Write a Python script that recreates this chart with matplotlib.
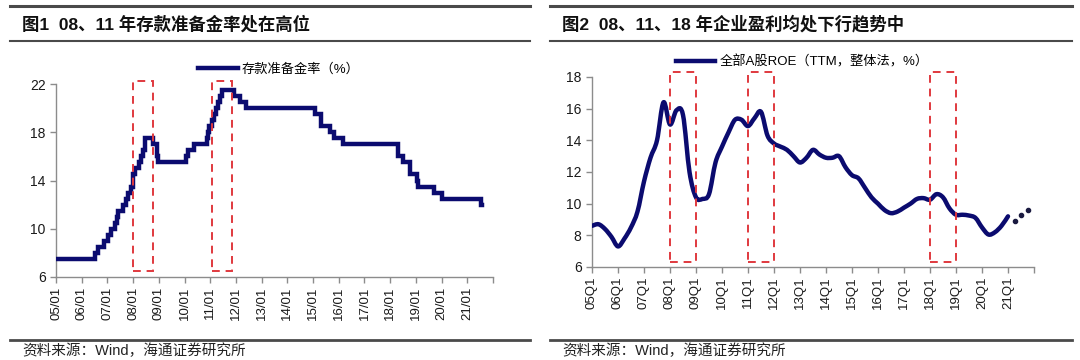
#!/usr/bin/env python3
# -*- coding: utf-8 -*-

import matplotlib
matplotlib.use('Agg')
import matplotlib.pyplot as plt
import matplotlib.dates as mdates
import pandas as pd
from matplotlib.lines import Line2D
from matplotlib.patches import PathPatch, Rectangle
from matplotlib.path import Path

# Reserve requirement ratio (large banks), change dates and new levels
rrr_dates = ['2005-01-01', '2006-07-05', '2006-08-15', '2006-11-15',
             '2007-01-15', '2007-02-25', '2007-04-16', '2007-05-15',
             '2007-06-05', '2007-08-15', '2007-09-25', '2007-10-25',
             '2007-11-26', '2007-12-25', '2008-01-25', '2008-03-25',
             '2008-04-25', '2008-05-20', '2008-06-15', '2008-06-25',
             '2008-10-15', '2008-12-05', '2008-12-25', '2010-01-18',
             '2010-02-25', '2010-05-10', '2010-11-16', '2010-11-29',
             '2010-12-20', '2011-01-20', '2011-02-24', '2011-03-25',
             '2011-04-21', '2011-05-18', '2011-06-20', '2011-12-05',
             '2012-02-24', '2012-05-18', '2015-02-05', '2015-04-20',
             '2015-09-06', '2015-10-24', '2016-03-01', '2018-04-25',
             '2018-07-05', '2018-10-15', '2019-01-15', '2019-01-25',
             '2019-09-16', '2020-01-06', '2021-07-15', '2021-07-31']
rrr_values = [7.5, 8.0, 8.5, 9.0,
              9.5, 10.0, 10.5, 11.0,
              11.5, 12.0, 12.5, 13.0,
              13.5, 14.5, 15.0, 15.5,
              16.0, 16.5, 17.0, 17.5,
              17.0, 16.0, 15.5, 16.0,
              16.5, 17.0, 17.5, 18.0,
              18.5, 19.0, 19.5, 20.0,
              20.5, 21.0, 21.5, 21.0,
              20.5, 20.0, 19.5, 18.5,
              18.0, 17.5, 17.0, 16.0,
              15.5, 14.5, 14.0, 13.5,
              13.0, 12.5, 12.0, 12.0]
rrr_years = list(range(2005, 2023))
rrr_boxes = [('2008-01-01', '2008-10-10'), ('2011-01-20', '2011-11-10')]

# Whole A-share ROE (TTM), quarterly 05Q1 .. 21Q1
roe_values = [8.6, 8.7, 8.4, 7.9,
              7.3, 7.8, 8.5, 9.5,
              11.4, 12.9, 14.0, 16.4,
              15.0, 15.9, 15.6, 12.0,
              10.4, 10.3, 10.6, 12.6,
              13.6, 14.5, 15.3, 15.3,
              14.9, 15.4, 15.8, 14.3,
              13.8, 13.6, 13.4, 13.0,
              12.6, 12.9, 13.4, 13.1,
              12.9, 12.9, 13.0, 12.3,
              11.8, 11.6, 11.0, 10.4,
              10.0, 9.6, 9.4, 9.5,
              9.75, 10.0, 10.3, 10.35,
              10.25, 10.6, 10.4, 9.7,
              9.3, 9.3, 9.25, 9.1,
              8.5, 8.05, 8.2, 8.6,
              9.2]
roe_next = [8.9, 9.3, 9.6]
roe_years = list(range(5, 22))
roe_boxes = [(12, 16), (24, 28), (52, 56)]

NAVY = '#0b0b6f'
RED = '#e0393e'
GREY = '#8c8c8c'
DARK = '#4a4a4a'
CJK = ['Liberation Sans', 'Noto Sans CJK SC']


def smooth_path(xs, ys):
    """
    Builds a Catmull-Rom style bezier path through the points, like a
    smoothed line in a spreadsheet chart.
    """
    verts = [(xs[0], ys[0])]
    codes = [Path.MOVETO]
    n = len(xs)
    for i in range(n - 1):
        xa, ya = (xs[i - 1], ys[i - 1]) if i > 0 else (xs[i], ys[i])
        xb, yb = (xs[i + 2], ys[i + 2]) if i + 2 < n else (xs[i + 1], ys[i + 1])
        c1 = (xs[i] + (xs[i + 1] - xa) / 6.0, ys[i] + (ys[i + 1] - ya) / 6.0)
        c2 = (xs[i + 1] - (xb - xs[i]) / 6.0, ys[i + 1] - (yb - ys[i]) / 6.0)
        verts += [c1, c2, (xs[i + 1], ys[i + 1])]
        codes += [Path.CURVE4] * 3
    return Path(verts, codes)


def style_axes(ax):
    for side in ('top', 'right'):
        ax.spines[side].set_visible(False)
    for side in ('left', 'bottom'):
        ax.spines[side].set_color(GREY)
        ax.spines[side].set_linewidth(1.0)
    ax.tick_params(axis='both', colors=GREY, length=4, width=1.0,
                   labelcolor='#1a1a1a', labelsize=10)
    ax.tick_params(axis='x', labelrotation=90, labelsize=9.5, pad=3)


def add_box(ax, x0, x1, y0, y1):
    rect = Rectangle((x0, y0), x1 - x0, y1 - y0, fill=False,
                     edgecolor=RED, linewidth=1.4, linestyle=(0, (4, 3)),
                     clip_on=False, zorder=4)
    ax.add_patch(rect)


def panel_frame(fig, x0, x1, title):
    w, h = 1080.0, 360.0
    for y, lw in ((6, 2.2), (41, 1.5), (340, 2.0)):
        fig.add_artist(Line2D([x0 / w, x1 / w], [1 - y / h, 1 - y / h],
                              transform=fig.transFigure, color=DARK, lw=lw))
    fig.text((x0 + 12) / w, 1 - 24 / h, title, fontsize=12.5,
             fontweight='bold', va='center', ha='left', family=CJK,
             color='#111111')
    fig.text((x0 + 12) / w, 1 - 351 / h, '资料来源：Wind，海通证券研究所',
             fontsize=10.5, va='center', ha='left', family=CJK,
             color='#222222')


def main():
    plt.rcParams['font.family'] = CJK
    fig = plt.figure(figsize=(10.8, 3.6), dpi=100)

    # Left chart: reserve requirement ratio
    ax1 = fig.add_axes([56 / 1080, 83 / 360, 437 / 1080, 193 / 360])
    style_axes(ax1)
    dates = pd.to_datetime(rrr_dates)
    ax1.step(dates, rrr_values, where='post', color=NAVY, lw=3.2,
             solid_joinstyle='miter', label='存款准备金率（%）', zorder=3)
    ax1.set_xlim(pd.Timestamp('2005-01-01'), pd.Timestamp('2022-01-01'))
    ax1.set_ylim(6, 22)
    ax1.set_yticks([6, 10, 14, 18, 22])
    ticks = [pd.Timestamp(f'{y}-01-01') for y in rrr_years]
    ax1.set_xticks(ticks)
    ax1.set_xticklabels([f'{y % 100:02d}/01' if y < 2022 else ''
                         for y in rrr_years])
    for a, b in rrr_boxes:
        add_box(ax1, mdates.date2num(pd.Timestamp(a)),
                mdates.date2num(pd.Timestamp(b)), 6.5, 22.27)
    ax1.legend(loc='center', bbox_to_anchor=(0.51, 1.075), frameon=False,
               fontsize=9.5, handlelength=3.0, handletextpad=0.3,
               borderpad=0)

    # Right chart: A-share ROE
    ax2 = fig.add_axes([592 / 1080, 93 / 360, 442 / 1080, 190 / 360])
    style_axes(ax2)
    xs = list(range(len(roe_values)))
    ax2.add_patch(PathPatch(smooth_path(xs, roe_values), facecolor='none',
                            edgecolor=NAVY, lw=3.2, capstyle='round',
                            joinstyle='round', zorder=3))
    nx = [len(roe_values) + i for i in range(len(roe_next))]
    ax2.scatter(nx, roe_next, s=9, color='#1a1a40', zorder=3)
    ax2.set_xlim(0, 68)
    ax2.set_ylim(6, 18)
    ax2.set_yticks(range(6, 19, 2))
    ax2.set_xticks([4 * i for i in range(len(roe_years) + 1)])
    ax2.set_xticklabels([f'{y:02d}Q1' for y in roe_years] + [''])
    for a, b in roe_boxes:
        add_box(ax2, a, b, 6.33, 18.33)
    proxy = Line2D([], [], color=NAVY, lw=3.2)
    ax2.legend([proxy], ['全部A股ROE（TTM，整体法，%）'], loc='center',
               bbox_to_anchor=(0.475, 1.08), frameon=False, fontsize=9.5,
               handlelength=3.0, handletextpad=0.3, borderpad=0)

    panel_frame(fig, 10, 530, '图1  08、11 年存款准备金率处在高位')
    panel_frame(fig, 550, 1072, '图2  08、11、18 年企业盈利均处下行趋势中')

    fig.savefig('out.png', dpi=100)


if __name__ == '__main__':
    main()
